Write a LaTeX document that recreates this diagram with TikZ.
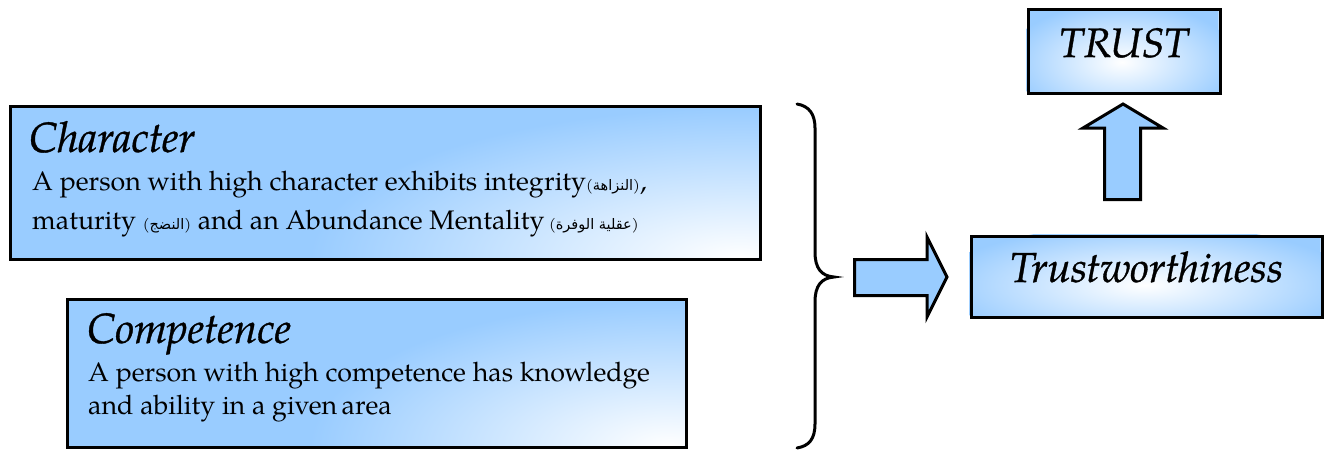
\documentclass[tikz,border=0pt]{standalone}
\usepackage{fontspec}
\setmainfont{TeX Gyre Pagella}
\newfontfamily\headfont{TeX Gyre Pagella}[FakeBold=0.8]
\newfontfamily\arabicfont[Script=Arabic]{DejaVu Sans}
\TeXXeTstate=1
\definecolor{boxblue}{RGB}{153,204,255}
% small Arabic gloss in parentheses (parentheses set in the Latin font)
\newcommand{\arabicgloss}[1]{{\fontsize{15}{15}\selectfont(}{\arabicfont\fontsize{14.5}{15}\selectfont\beginR #1\endR}{\fontsize{15}{15}\selectfont)}}

\begin{document}
\begin{tikzpicture}[x=1pt,y=-1pt,
  frame/.style={draw=black, line width=3pt, inner sep=0pt, anchor=north west},
  blockarrow/.style={draw=black, line width=3pt, fill=boxblue, line join=miter},
  brace/.style={draw=black, line width=3pt, line cap=round},
  heading/.style={anchor=base west, inner sep=0pt, font=\headfont\fontsize{42.3}{42}\selectfont\itshape},
  body/.style={anchor=base west, inner sep=0pt, font=\fontsize{26.8}{27}\selectfont},
  title/.style={anchor=base, inner sep=0pt, font=\headfont\fontsize{42}{42}\selectfont\itshape}]

\useasboundingbox (0,0) rectangle (1329,452);

% ---------- Character box ----------
\begin{scope}
  \clip (8.5,104.5) rectangle (758.5,257.5);
  \fill[boxblue] (8.5,104.5) rectangle (758.5,257.5);
  \shade[inner color=white, outer color=boxblue] (740,258) ellipse [x radius=430pt, y radius=150pt];
\end{scope}
\node[frame, minimum width=750pt, minimum height=153pt] (charbox) at (8.5,104.5) {};
\node[heading] (charhead) at (29,152) {Character};
\node[body] (charline1) at (32,190) {A person with high character exhibits integrity\arabicgloss{النزاهة},};
\node[body] (charline2) at (32,229) {maturity \arabicgloss{النضج} and an Abundance Mentality\,\arabicgloss{عقلية الوفرة}};

% ---------- Competence box ----------
\begin{scope}
  \clip (65.5,297.5) rectangle (684.5,445.5);
  \fill[boxblue] (65.5,297.5) rectangle (684.5,445.5);
  \shade[inner color=white, outer color=boxblue] (670,446) ellipse [x radius=360pt, y radius=145pt];
\end{scope}
\node[frame, minimum width=619pt, minimum height=148pt] (compbox) at (65.5,297.5) {};
\node[heading] (comphead) at (87,343) {Competence};
\node[body] (compline1) at (88,381) {A person with high competence has knowledge};
\node[body] (compline2) at (88,414) {and ability in a given\,area};

% ---------- brace gathering both boxes ----------
\draw[brace] (797,104) .. controls (809,106) and (815,114) .. (815,128)
  -- (815,252) .. controls (815,268) and (821,276) .. (834,277)
  .. controls (821,278) and (815,286) .. (815,302)
  -- (815,424) .. controls (815,439) and (809,446) .. (797,448);

% ---------- Trustworthiness box ----------
\begin{scope}
  \clip (969.5,234.5) rectangle (1320.5,315.5);
  \fill[boxblue] (969.5,234.5) rectangle (1320.5,315.5);
  \shade[inner color=white, outer color=boxblue] (1145,285) ellipse [x radius=210pt, y radius=60pt];
\end{scope}
\node[frame, minimum width=351pt, minimum height=81pt] (trustworthy) at (969.5,234.5) {};
\node[title] (trustworthytext) at (trustworthy.center |- 0,282) {Trustworthiness};

% ---------- TRUST box ----------
\begin{scope}
  \clip (1026.5,8.5) rectangle (1218.5,91.5);
  \fill[boxblue] (1026.5,8.5) rectangle (1218.5,91.5);
  \shade[inner color=white, outer color=boxblue] (1122,62) ellipse [x radius=115pt, y radius=60pt];
\end{scope}
\node[frame, minimum width=192pt, minimum height=83pt] (trust) at (1026.5,8.5) {};
\node[title, font=\headfont\fontsize{41}{41}\selectfont\itshape] (trusttext) at (trust.center |- 0,57) {TRUST};

% ---------- block arrows ----------
\draw[blockarrow] (854.5,259.5) -- (927,259.5) -- (927,237) -- (947,277)
  -- (927,317) -- (927,295.5) -- (854.5,295.5) -- cycle;
\draw[blockarrow] (1104.5,199.5) -- (1104.5,128) -- (1083,128) -- (1123,104)
  -- (1163,128) -- (1140.5,128) -- (1140.5,199.5) -- cycle;
\end{tikzpicture}
\end{document}
